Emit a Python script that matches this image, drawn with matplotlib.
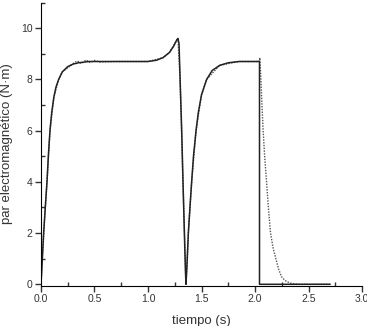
import matplotlib as mpl
import matplotlib.pyplot as plt
from matplotlib.ticker import MultipleLocator

mpl.rcParams["font.family"] = ["Liberation Sans", "DejaVu Sans"]

# simulated torque (solid)
t_sim = [0.0, 0.01, 0.025, 0.04, 0.056, 0.07, 0.084, 0.10, 0.12, 0.14,
         0.165, 0.20, 0.25, 0.30, 0.35, 0.45, 0.70, 1.00, 1.08, 1.14,
         1.20, 1.24, 1.27, 1.28, 1.29, 1.30, 1.315, 1.327, 1.34, 1.35,
         1.355, 1.365, 1.377, 1.392, 1.408, 1.425, 1.449, 1.47, 1.50, 1.548,
         1.60, 1.67, 1.75, 1.85, 2.042, 2.042, 2.70]
par_sim = [0.0, 0.8, 2.0, 3.0, 4.0, 5.1, 6.0, 6.7, 7.3, 7.7,
           8.0, 8.3, 8.5, 8.6, 8.65, 8.7, 8.7, 8.7, 8.75, 8.85,
           9.05, 9.3, 9.55, 9.6, 9.4, 8.0, 6.0, 4.0, 2.0, 0.5,
           0.0, 0.8, 2.0, 3.0, 4.0, 5.0, 6.0, 6.7, 7.4, 8.0,
           8.35, 8.55, 8.65, 8.7, 8.7, 0.0, 0.0]

# measured torque (dotted)
t_exp = [0.0, 0.025, 0.056, 0.084, 0.12, 0.165, 0.20, 0.25, 0.30, 0.34,
         0.38, 0.42, 0.46, 0.50, 0.55, 0.70, 1.00, 1.14, 1.20, 1.27,
         1.28, 1.30, 1.327, 1.355, 1.377, 1.408, 1.449, 1.50, 1.548, 1.67,
         1.85, 2.04, 2.045, 2.055, 2.065, 2.076, 2.09, 2.108, 2.125, 2.145,
         2.17, 2.195, 2.22, 2.247, 2.28, 2.325, 2.40, 2.70]
par_exp = [0.0, 2.0, 4.0, 6.0, 7.3, 8.0, 8.3, 8.45, 8.62, 8.72,
           8.62, 8.76, 8.66, 8.74, 8.68, 8.7, 8.7, 8.85, 9.05, 9.55,
           9.6, 8.0, 4.0, 0.0, 2.0, 4.0, 6.0, 7.4, 8.0, 8.55,
           8.7, 8.7, 8.85, 8.0, 7.0, 6.0, 5.0, 4.0, 3.0, 2.0,
           1.4, 1.0, 0.6, 0.3, 0.15, 0.05, 0.0, 0.0]

fig = plt.figure(figsize=(3.67, 3.26), dpi=100)
ax = fig.add_axes([0.1117, 0.124, 0.8747, 0.868])

ax.plot(t_exp, par_exp, color="#555555", linestyle=(0, (1, 1)), linewidth=1.0)
ax.plot(t_sim, par_sim, color="#222222", linewidth=1.1)

ax.set_xlim(0, 3.0)
ax.set_ylim(-0.05, 11)
ax.xaxis.set_major_locator(MultipleLocator(0.5))
ax.xaxis.set_minor_locator(MultipleLocator(0.25))
ax.yaxis.set_major_locator(MultipleLocator(2))
ax.yaxis.set_minor_locator(MultipleLocator(1))
ax.xaxis.set_major_formatter(mpl.ticker.FormatStrFormatter("%.1f"))

ax.spines["top"].set_visible(False)
ax.spines["right"].set_visible(False)
ax.tick_params(which="major", direction="out", length=4.5, width=1, pad=1.5,
               labelsize=7.5, colors="#333333")
ax.tick_params(which="minor", direction="in", length=3, width=1, colors="#333333")

ax.set_xlabel("tiempo (s)", fontsize=9.5, color="#333333")
ax.set_ylabel("par electromagnético (N·m)", fontsize=9.5, color="#333333")
ax.xaxis.set_label_coords(0.5, -0.105)
ax.yaxis.set_label_coords(-0.087, 0.5)

plt.savefig("out.png", dpi=100)
plt.close(fig)
